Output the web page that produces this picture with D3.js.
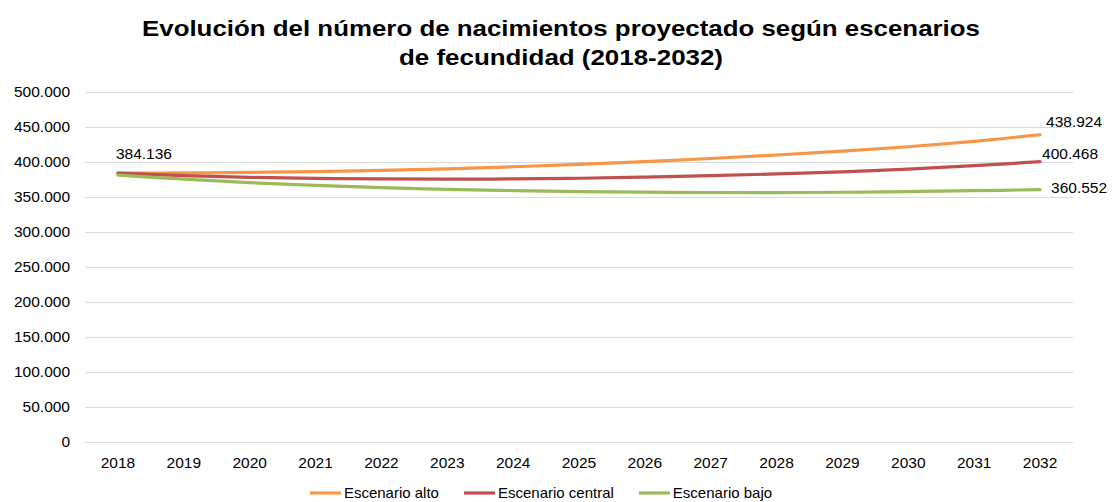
<!DOCTYPE html>
<html lang="es">
<head>
  <meta charset="UTF-8">
  <title>Nacimientos proyectados</title>
  <script src="https://d3js.org/d3.v7.min.js"></script>
  <style>
    *{
      margin: 0;
      padding: 0;
      box-sizing: border-box;
    }
    body{
      background: #fff;
      font-family: 'Liberation Sans', Arial, sans-serif;
    }
    .grid line{
      stroke: #d9d9d9;
      stroke-width: 1;
      shape-rendering: crispEdges;
    }
    .tick-label, .data-label, .legend text{
      font-size: 15.5px;
      fill: #000;
    }
    .title{
      font-size: 22.5px;
      font-weight: bold;
      fill: #000;
    }
    .serie{
      fill: none;
      stroke-width: 3.2;
      stroke-linecap: round;
      stroke-linejoin: round;
    }
  </style>
</head>
<body>
  <svg id="chart" width="1113" height="502"></svg>
  <script>
    // datos
    var anios = ["2018","2019","2020","2021","2022","2023","2024","2025","2026","2027","2028","2029","2030","2031","2032"];
    var alto    = [384136, 384400, 385100, 386300, 388000, 390200, 393200, 396600, 400500, 405000, 410000, 415500, 421800, 429500, 438924];
    var central = [384136, 380500, 378000, 376600, 375800, 375500, 375800, 376800, 378400, 380500, 383000, 386000, 389900, 394800, 400468];
    var bajo    = [381200, 375500, 370500, 366500, 363300, 361000, 359200, 357800, 356900, 356400, 356300, 356800, 357800, 359000, 360552];
    var nombres = ["Escenario alto", "Escenario central", "Escenario bajo"];
    var colores = ["#f79646", "#c0504d", "#9bbb59"];
    var yTicks  = [0, 50000, 100000, 150000, 200000, 250000, 300000, 350000, 400000, 450000, 500000];
    var titulo  = ["Evolución del número de nacimientos proyectado según escenarios", "de fecundidad (2018-2032)"];

    var series = [alto, central, bajo];

    var es = d3.formatLocale({decimal: ",", thousands: ".", grouping: [3], currency: ["", " €"]});
    var fmt = es.format(",d");

    var svg = d3.select("#chart");

    var x = d3.scaleBand().domain(anios).range([85, 1073]);
    var y = d3.scaleLinear().domain([0, 500000]).range([442, 92]);
    var cx = function(a){ return x(a) + x.bandwidth() / 2; };

    // titulo (el original es algo mas ancho que Liberation Sans)
    var anchoTit = [838, 324];
    svg.append("text")
      .attr("class", "title")
      .attr("text-anchor", "middle")
      .selectAll("tspan")
      .data(titulo)
      .enter().append("tspan")
      .attr("x", 561)
      .attr("y", function(d, i){ return 36 + i * 29; })
      .attr("textLength", function(d, i){ return anchoTit[i]; })
      .attr("lengthAdjust", "spacingAndGlyphs")
      .text(function(d){ return d; });

    // rejilla
    svg.append("g").attr("class", "grid")
      .selectAll("line")
      .data(yTicks)
      .enter().append("line")
      .attr("x1", 85).attr("x2", 1073)
      .attr("y1", function(d){ return Math.round(y(d)) + 0.5; })
      .attr("y2", function(d){ return Math.round(y(d)) + 0.5; });

    // eje y
    svg.append("g")
      .selectAll("text")
      .data(yTicks)
      .enter().append("text")
      .attr("class", "tick-label")
      .attr("x", 70)
      .attr("y", function(d){ return y(d); })
      .attr("dy", "0.35em")
      .attr("text-anchor", "end")
      .text(function(d){ return fmt(d); });

    // eje x
    svg.append("g")
      .selectAll("text")
      .data(anios)
      .enter().append("text")
      .attr("class", "tick-label")
      .attr("x", cx)
      .attr("y", 468)
      .attr("text-anchor", "middle")
      .text(function(d){ return d; });

    // lineas
    var linea = d3.line()
      .x(function(d, i){ return cx(anios[i]); })
      .y(function(d){ return y(d); })
      .curve(d3.curveCatmullRom.alpha(0.5));

    svg.append("g")
      .selectAll("path")
      .data(series)
      .enter().append("path")
      .attr("class", "serie")
      .attr("stroke", function(d, i){ return colores[i]; })
      .attr("d", linea);

    // etiquetas de datos
    var n = anios.length - 1;
    svg.append("text")
      .attr("class", "data-label")
      .attr("x", cx(anios[0]) - 2)
      .attr("y", y(alto[0]) - 14)
      .text(fmt(alto[0]));

    var finOff = [[6, -8], [2, -3], [11, 3]];
    svg.append("g")
      .selectAll("text")
      .data(series)
      .enter().append("text")
      .attr("class", "data-label")
      .attr("x", function(d, i){ return cx(anios[n]) + finOff[i][0]; })
      .attr("y", function(d, i){ return y(d[n]) + finOff[i][1]; })
      .text(function(d){ return fmt(d[n]); });

    // leyenda
    var ley = svg.append("g").attr("class", "legend");
    var pos = 0;
    nombres.forEach(function(nm, i){
      var g = ley.append("g").attr("transform", "translate(" + pos + ",0)");
      g.append("line")
        .attr("x1", 0).attr("x2", 31)
        .attr("y1", 493).attr("y2", 493)
        .attr("stroke", colores[i])
        .attr("stroke-width", 3.2);
      var t = g.append("text")
        .attr("x", 34)
        .attr("y", 498)
        .style("font-size", "15px")
        .text(nm);
      pos += 34 + t.node().getComputedTextLength() + 25;
    });
    var anchoLey = pos - 25;
    ley.attr("transform", "translate(" + (541 - anchoLey / 2) + ",0)");
  </script>
</body>
</html>
